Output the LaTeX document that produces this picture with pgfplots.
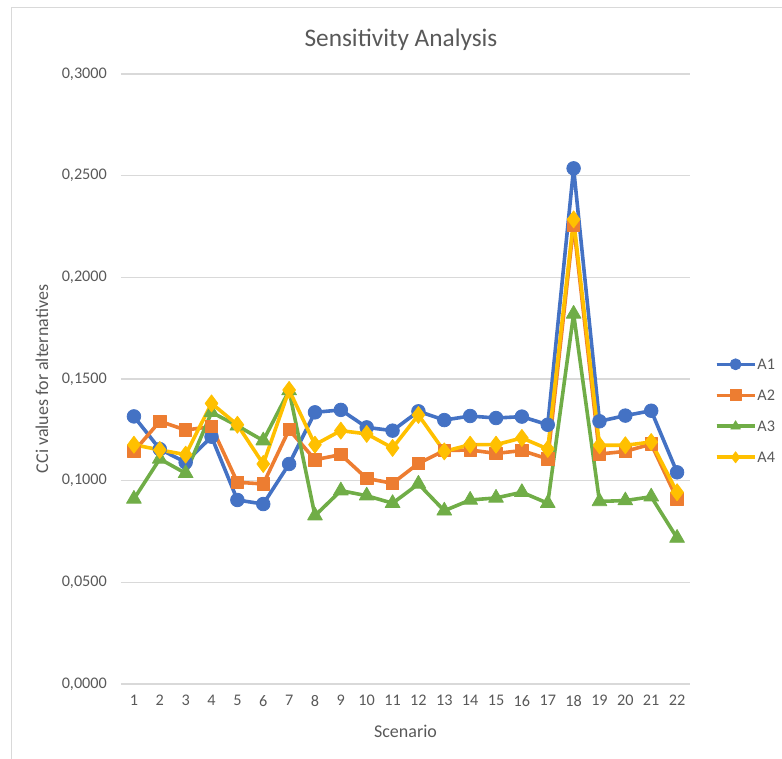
\documentclass[border=0pt]{standalone}
\usepackage{pgfplots}
\pgfplotsset{compat=1.18}
\usepackage{pgfplotstable}
\usepackage{fontspec}
\setmainfont{Carlito}
\definecolor{cA}{HTML}{4472C4}
\definecolor{cB}{HTML}{ED7D31}
\definecolor{cC}{HTML}{70AD47}
\definecolor{cD}{HTML}{FFC000}
\definecolor{txt}{HTML}{595959}
\definecolor{gc}{HTML}{D9D9D9}
\pgfplotstableread{
x A1 A2 A3 A4
1 0.1316 0.1144 0.0910 0.1177
2 0.1155 0.1292 0.1107 0.1151
3 0.1090 0.1249 0.1036 0.1128
4 0.1216 0.1266 0.1336 0.1380
5 0.0905 0.0992 0.1270 0.1275
6 0.0885 0.0984 0.1197 0.1082
7 0.1082 0.1251 0.1443 0.1446
8 0.1336 0.1103 0.0828 0.1177
9 0.1348 0.1128 0.0951 0.1246
10 0.1262 0.1011 0.0926 0.1230
11 0.1246 0.0987 0.0889 0.1161
12 0.1341 0.1085 0.0984 0.1323
13 0.1298 0.1148 0.0852 0.1144
14 0.1318 0.1151 0.0905 0.1177
15 0.1308 0.1134 0.0915 0.1177
16 0.1315 0.1148 0.0943 0.1210
17 0.1275 0.1107 0.0889 0.1156
18 0.2536 0.2257 0.1820 0.2285
19 0.1292 0.1131 0.0898 0.1174
20 0.1320 0.1144 0.0902 0.1174
21 0.1344 0.1180 0.0921 0.1190
22 0.1041 0.0910 0.0718 0.0943
}\data
\begin{document}
\begin{tikzpicture}
\useasboundingbox (0pt,0pt) rectangle (782pt,758pt);
\draw[gc, line width=1.5pt] (11.5pt,-5pt) -- (11.5pt,750.5pt) -- (790pt,750.5pt);
\node[txt, font=\fontsize{25.3}{30}\selectfont] at (401pt,718pt) {Sensitivity Analysis};
\begin{axis}[
  at={(121pt,74pt)}, anchor=south west,
  width=569pt, height=610pt, scale only axis,
  xmin=0.5, xmax=22.5, ymin=0, ymax=0.3,
  xtick={1,...,22}, ytick={0,0.05,0.1,0.15,0.2,0.25,0.3},
  axis line style={draw=none},
  major tick length=0,
  xmajorgrids=false, ymajorgrids=true, grid style={draw=gc, line width=1.2pt},
  tick label style={txt, font=\fontsize{16.2}{19}\selectfont},
  /pgf/number format/assume math mode=true,
  yticklabel style={/pgf/number format/.cd, fixed, fixed zerofill, precision=4, use comma, /tikz/.cd, xshift=-9pt},
  xticklabel style={yshift=-6pt},
  xlabel={Scenario}, ylabel={CCi values for alternatives},
  label style={txt, font=\fontsize{18}{21}\selectfont},
  xlabel style={at={(axis description cs:0.5,-0.077)}, anchor=center},
  ylabel style={at={(axis description cs:-0.139,0.5)}, anchor=center},
  line width=3.6pt, line join=round,
  mark options={solid, line width=0.8pt},
  legend cell align=left,
  legend style={draw=none, fill=none, at={(axis description cs:1.0404,0.5377)}, anchor=north west,
    font=\fontsize{16.2}{19}\selectfont, text=txt, row sep=18pt, inner sep=0pt,
    nodes={inner sep=1pt, text height=11pt, text depth=0pt}},
  legend image code/.code={\draw[#1, mark=none] (0pt,0pt) -- (38pt,0pt);
    \draw[#1, mark size=5.5pt, mark repeat=2, mark phase=2] plot coordinates {(0pt,0pt) (19pt,0pt) (38pt,0pt)};},
]
\addplot[cA, mark=*, mark size=6.8pt] table[x=x, y=A1] {\data};
\addlegendentry{A1}
\addplot[cB, mark=square*, mark size=6.2pt] table[x=x, y=A2] {\data};
\addlegendentry{A2}
\addplot[cC, mark=triangle*, mark size=8.5pt] table[x=x, y=A3] {\data};
\addlegendentry{A3}
\addplot[cD, mark=diamond*, mark size=8.5pt] table[x=x, y=A4] {\data};
\addlegendentry{A4}
\end{axis}
\end{tikzpicture}
\end{document}
